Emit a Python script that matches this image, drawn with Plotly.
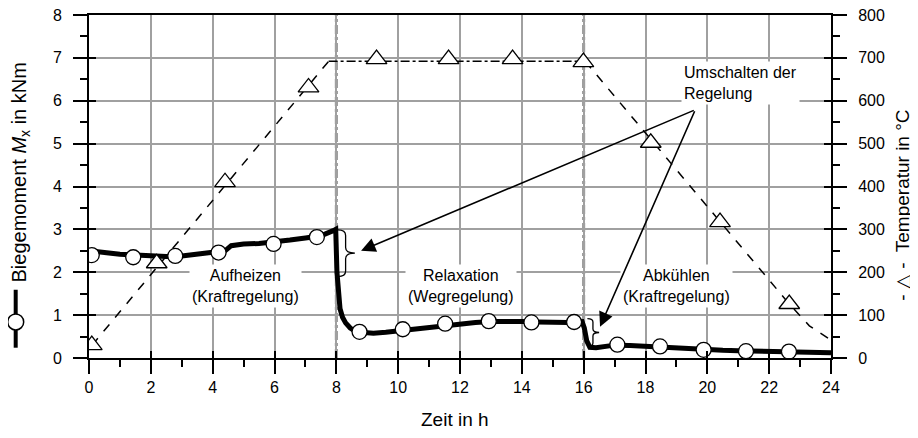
import plotly.graph_objects as go

# ---------------- data ----------------
# bending moment (continuous record, kNm)
m_time = [0.0, 0.3, 0.6, 1.0, 1.5, 2.0, 2.5, 3.0, 3.5, 4.0, 4.4, 4.6, 5.0, 5.5, 6.0, 6.5, 7.0, 7.5, 7.9, 7.98,
          8.02, 8.06, 8.12, 8.2, 8.3, 8.45, 8.6, 8.8, 9.2, 9.6, 10.0, 10.5, 11.0, 11.5, 12.0, 12.5, 13.0, 13.5,
          14.0, 14.5, 15.0, 15.5, 15.95, 16.02, 16.1, 16.2, 16.4, 16.7, 17.0, 17.5, 18.0, 18.5, 19.0, 19.5,
          20.0, 20.5, 21.0, 21.5, 22.0, 22.5, 23.0, 23.5, 24.0]
m_value = [2.50, 2.47, 2.45, 2.42, 2.40, 2.38, 2.37, 2.38, 2.42, 2.45, 2.50, 2.62, 2.66, 2.67, 2.70, 2.75, 2.80, 2.85, 2.97, 3.00,
           2.00, 1.50, 1.15, 0.95, 0.82, 0.70, 0.63, 0.60, 0.58, 0.60, 0.63, 0.68, 0.72, 0.77, 0.80, 0.83, 0.85, 0.86,
           0.85, 0.84, 0.83, 0.83, 0.85, 0.70, 0.40, 0.25, 0.24, 0.28, 0.30, 0.29, 0.27, 0.26, 0.22, 0.21,
           0.19, 0.18, 0.17, 0.16, 0.16, 0.15, 0.13, 0.12, 0.12]
# circle markers on the moment curve
mk_time = [0.09, 1.43, 2.79, 4.19, 5.97, 7.37, 8.75, 10.15, 11.52, 12.93, 14.31, 15.69, 17.09, 18.47, 19.88, 21.25, 22.64]
mk_value = [2.40, 2.35, 2.38, 2.46, 2.66, 2.82, 0.61, 0.67, 0.80, 0.86, 0.83, 0.84, 0.31, 0.27, 0.19, 0.16, 0.15]

# temperature (°C)
t_up_time = [0.1, 7.75]
t_up_value = [30, 692]
t_hold_time = [7.75, 16.05]
t_hold_value = [692, 692]
t_down_time = [16.05, 22.65, 23.3, 24.0]
t_down_value = [692, 126, 75, 42]
tri_time = [0.09, 2.19, 4.40, 7.10, 9.30, 11.63, 13.70, 15.99, 18.17, 20.41, 22.65]
tri_value = [30, 221, 410, 631, 697, 697, 697, 690, 502, 317, 126]

x_ticks = [0, 2, 4, 6, 8, 10, 12, 14, 16, 18, 20, 22, 24]
phase_switch = [8, 16]

FONT = "Liberation Sans, Arial, sans-serif"

fig = go.Figure()

fig.add_trace(go.Scatter(x=m_time, y=m_value, mode="lines",
                         line=dict(color="black", width=5), showlegend=False, hoverinfo="skip"))
fig.add_trace(go.Scatter(x=mk_time, y=mk_value, mode="markers",
                         marker=dict(symbol="circle", size=15, color="white", line=dict(color="black", width=1.3)),
                         showlegend=False))

fig.add_trace(go.Scatter(x=t_up_time, y=t_up_value, yaxis="y2", mode="lines",
                         line=dict(color="black", width=1.5, dash="dash"), showlegend=False))
fig.add_trace(go.Scatter(x=t_hold_time, y=t_hold_value, yaxis="y2", mode="lines",
                         line=dict(color="black", width=1.5, dash="dashdot"), showlegend=False))
fig.add_trace(go.Scatter(x=t_down_time, y=t_down_value, yaxis="y2", mode="lines",
                         line=dict(color="black", width=1.5, dash="dash"), showlegend=False))
fig.add_trace(go.Scatter(x=tri_time, y=tri_value, yaxis="y2", mode="markers",
                         marker=dict(symbol="triangle-up", size=18, color="white", line=dict(color="black", width=1.3)),
                         showlegend=False))

# dummy traces for inner tick parts
fig.add_trace(go.Scatter(x=[None], y=[None], xaxis="x2", yaxis="y3", showlegend=False, hoverinfo="skip"))
fig.add_trace(go.Scatter(x=[None], y=[None], xaxis="x2", yaxis="y4", showlegend=False, hoverinfo="skip"))

tickfont = dict(family=FONT, size=16, color="black")

fig.update_layout(
    width=910, height=430,
    margin=dict(l=81, r=87, t=7, b=80, autoexpand=False),
    paper_bgcolor="white", plot_bgcolor="white",
    font=dict(family=FONT, size=16, color="black"),
    xaxis=dict(range=[0, 24], tickvals=x_ticks, ticks="outside", ticklen=14, tickwidth=1.5, tickcolor="black",
               minor=dict(dtick=1, ticks="outside", ticklen=7, tickwidth=1.5, tickcolor="black", showgrid=False),
               showgrid=True, gridcolor="#a0a0a0", gridwidth=1.5, automargin=False, ticklabeloverflow="allow",
               showline=True, linecolor="black", linewidth=2, mirror=True, zeroline=False,
               tickfont=tickfont, ticklabelstandoff=0),
    yaxis=dict(range=[0, 8], dtick=1, ticks="outside", ticklen=14, tickwidth=1.5, tickcolor="black",
               minor=dict(dtick=0.5, ticks="outside", ticklen=7, tickwidth=1.5, tickcolor="black", showgrid=False),
               showgrid=True, gridcolor="#a0a0a0", gridwidth=1.5, automargin=False, ticklabeloverflow="allow",
               showline=True, linecolor="black", linewidth=2, zeroline=False,
               tickfont=tickfont, ticklabelstandoff=8),
    yaxis2=dict(range=[0, 800], dtick=100, overlaying="y", side="right", anchor="x",
                ticks="outside", ticklen=14, tickwidth=1.5, tickcolor="black", automargin=False,
                ticklabeloverflow="allow",
                minor=dict(dtick=50, ticks="outside", ticklen=7, tickwidth=1.5, tickcolor="black", showgrid=False),
                showgrid=False, showline=True, linecolor="black", linewidth=2, zeroline=False,
                tickfont=tickfont, ticklabelstandoff=8),
    xaxis2=dict(range=[0, 24], tickvals=x_ticks, overlaying="x", anchor="y", side="bottom",
                ticks="inside", ticklen=7, tickwidth=1.5, tickcolor="black", automargin=False,
                showticklabels=False, showgrid=False, showline=False, zeroline=False),
    yaxis3=dict(range=[0, 8], dtick=1, overlaying="y", anchor="x", side="left",
                ticks="inside", ticklen=7, tickwidth=1.5, tickcolor="black", automargin=False,
                showticklabels=False, showgrid=False, showline=False, zeroline=False),
    yaxis4=dict(range=[0, 800], dtick=100, overlaying="y", anchor="x", side="right",
                ticks="inside", ticklen=7, tickwidth=1.5, tickcolor="black", automargin=False,
                showticklabels=False, showgrid=False, showline=False, zeroline=False),
)

# phase switch lines
for xv in phase_switch:
    fig.add_shape(type="line", x0=xv, x1=xv, y0=0, y1=1, xref="x", yref="paper",
                  line=dict(color="#8c8c8c", width=3, dash="dashdot"), layer="below")


def brace(x0, xm, xt, yt, yb, r):
    ym = (yt + yb) / 2
    return (f"M {x0},{yt} Q {xm},{yt} {xm},{yt - r} L {xm},{ym + r} Q {xm},{ym} {xt},{ym} "
            f"Q {xm},{ym} {xm},{ym - r} L {xm},{yb + r} Q {xm},{yb} {x0},{yb}")


fig.add_shape(type="path", path=brace(8.05, 8.3, 8.6, 2.99, 1.90, 0.13), xref="x", yref="y",
              line=dict(color="black", width=1.3))
fig.add_shape(type="path", path=brace(16.12, 16.3, 16.5, 0.92, 0.27, 0.08), xref="x", yref="y",
              line=dict(color="black", width=1.3))

# left axis title symbol
fig.add_shape(type="line", xref="paper", yref="paper", x0=-0.0988, x1=-0.0988, y0=0.030, y1=0.199,
              line=dict(color="black", width=4))
fig.add_shape(type="circle", xref="paper", yref="paper", xsizemode="pixel", ysizemode="pixel",
              xanchor=-0.0988, yanchor=0.105, x0=-8, x1=8, y0=-8, y1=8,
              fillcolor="white", line=dict(color="black", width=1.5))

ann = []
ann.append(dict(text="Biegemoment <i>M</i><sub>x</sub> in kNm", textangle=-90, xref="paper", yref="paper",
                x=-0.092, y=0.54, xanchor="center", yanchor="middle", showarrow=False,
                font=dict(family=FONT, size=20)))
ann.append(dict(text="- △ -  Temperatur in °C", textangle=-90, xref="paper", yref="paper",
                x=1.097, y=0.447, xanchor="center", yanchor="middle", showarrow=False,
                font=dict(family=FONT, size=19)))
ann.append(dict(text="Zeit in h", xref="paper", yref="paper", x=0.493, y=-0.18,
                xanchor="center", yanchor="middle", showarrow=False, font=dict(family=FONT, size=19)))

for txt, xx in [("Aufheizen<br>(Kraftregelung)", 5.07), ("Relaxation<br>(Wegregelung)", 12.03),
                ("Abkühlen<br>(Kraftregelung)", 19.0)]:
    ann.append(dict(text=txt, x=xx, y=1.69, xref="x", yref="y", showarrow=False, align="center",
                    bgcolor="white", font=dict(family=FONT, size=16), borderpad=2))
ann.append(dict(text="Umschalten der<br>Regelung", x=19.15, y=6.42, xref="x", yref="y", showarrow=False,
                align="left", xanchor="left", bgcolor="white", font=dict(family=FONT, size=16), borderpad=2))

# arrows
for tx, ty in [(8.8, 2.5), (16.53, 0.73)]:
    ann.append(dict(text="", x=tx, y=ty, ax=19.61, ay=5.79, xref="x", yref="y", axref="x", ayref="y",
                    showarrow=True, arrowhead=2, arrowsize=1.8, arrowwidth=1.6, arrowcolor="black"))

fig.update_layout(annotations=ann)

fig.write_html("out.html")
